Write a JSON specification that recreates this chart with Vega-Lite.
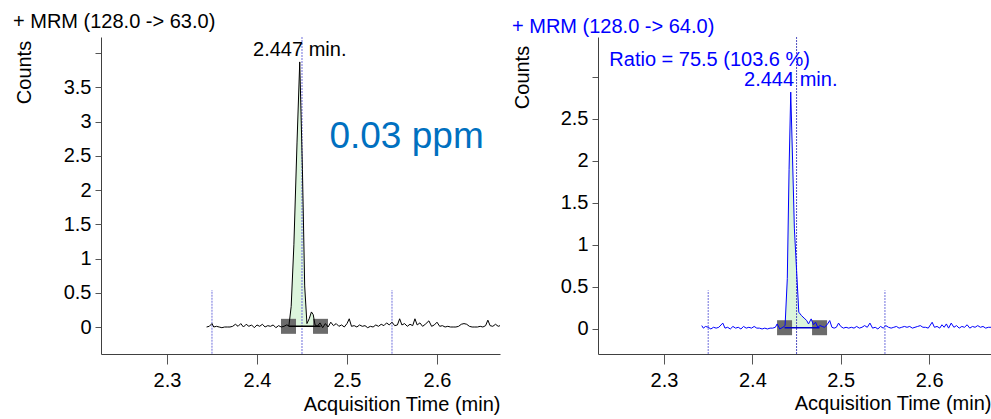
{
  "$schema": "https://vega.github.io/schema/vega-lite/v6.json",
  "background": "white",
  "padding": {"left": 13, "top": 11, "right": 0, "bottom": 4},
  "bounds": "flush",
  "spacing": 98,
  "config": {
    "font": "Liberation Sans",
    "view": {"stroke": null},
    "axis": {
      "grid": false,
      "labelFont": "Liberation Sans",
      "labelFontSize": 20,
      "labelColor": "#000000",
      "labelOverlap": false,
      "titleFont": "Liberation Sans",
      "titleFontSize": 20,
      "titleFontWeight": "normal",
      "titleColor": "#000000",
      "domainColor": "#404040",
      "tickColor": "#555555"
    },
    "title": {"font": "Liberation Sans", "fontSize": 20, "fontWeight": "normal", "anchor": "start", "frame": "group", "baseline": "alphabetic"}
  },
  "datasets": {
    "left": [
      {"t": 2.344, "v": 0.0}, {"t": 2.347, "v": 0.01}, {"t": 2.350, "v": 0.05}, {"t": 2.352, "v": 0.0},
      {"t": 2.355, "v": 0.01}, {"t": 2.358, "v": 0.0}, {"t": 2.361, "v": -0.01}, {"t": 2.364, "v": 0.0},
      {"t": 2.367, "v": 0.0}, {"t": 2.370, "v": 0.0}, {"t": 2.373, "v": 0.01}, {"t": 2.376, "v": 0.04},
      {"t": 2.379, "v": 0.01}, {"t": 2.382, "v": 0.05}, {"t": 2.385, "v": 0.0}, {"t": 2.388, "v": 0.04},
      {"t": 2.391, "v": 0.01}, {"t": 2.394, "v": 0.03}, {"t": 2.397, "v": -0.01}, {"t": 2.400, "v": 0.03},
      {"t": 2.403, "v": 0.01}, {"t": 2.406, "v": 0.04}, {"t": 2.409, "v": 0.0}, {"t": 2.412, "v": 0.02},
      {"t": 2.415, "v": 0.01}, {"t": 2.418, "v": 0.03}, {"t": 2.421, "v": -0.01}, {"t": 2.424, "v": 0.02},
      {"t": 2.427, "v": 0.0}, {"t": 2.430, "v": 0.01}, {"t": 2.433, "v": 0.03}, {"t": 2.4355, "v": 0.02},
      {"t": 2.438, "v": 0.3}, {"t": 2.441, "v": 1.2}, {"t": 2.4445, "v": 2.7}, {"t": 2.4475, "v": 3.87},
      {"t": 2.4505, "v": 2.3}, {"t": 2.453, "v": 0.6}, {"t": 2.4555, "v": 0.05}, {"t": 2.458, "v": 0.12},
      {"t": 2.4605, "v": 0.22}, {"t": 2.4625, "v": 0.18}, {"t": 2.4645, "v": 0.03}, {"t": 2.467, "v": 0.01},
      {"t": 2.470, "v": 0.06}, {"t": 2.473, "v": -0.01}, {"t": 2.476, "v": 0.05}, {"t": 2.479, "v": 0.0},
      {"t": 2.482, "v": 0.07}, {"t": 2.485, "v": 0.02}, {"t": 2.488, "v": 0.05}, {"t": 2.491, "v": 0.01},
      {"t": 2.494, "v": 0.03}, {"t": 2.497, "v": 0.0}, {"t": 2.500, "v": 0.05}, {"t": 2.5025, "v": 0.12},
      {"t": 2.505, "v": 0.01}, {"t": 2.508, "v": 0.02}, {"t": 2.511, "v": 0.0}, {"t": 2.514, "v": 0.03},
      {"t": 2.517, "v": 0.01}, {"t": 2.520, "v": 0.02}, {"t": 2.523, "v": -0.01}, {"t": 2.526, "v": 0.01},
      {"t": 2.529, "v": 0.0}, {"t": 2.532, "v": 0.03}, {"t": 2.535, "v": 0.01}, {"t": 2.538, "v": 0.04},
      {"t": 2.541, "v": 0.02}, {"t": 2.544, "v": 0.06}, {"t": 2.547, "v": 0.03}, {"t": 2.550, "v": 0.07},
      {"t": 2.553, "v": 0.02}, {"t": 2.556, "v": 0.03}, {"t": 2.5585, "v": 0.12}, {"t": 2.561, "v": 0.03},
      {"t": 2.564, "v": 0.05}, {"t": 2.567, "v": 0.01}, {"t": 2.570, "v": 0.04}, {"t": 2.573, "v": 0.02},
      {"t": 2.5755, "v": 0.12}, {"t": 2.578, "v": 0.03}, {"t": 2.581, "v": 0.06}, {"t": 2.584, "v": 0.01},
      {"t": 2.587, "v": 0.04}, {"t": 2.591, "v": 0.09}, {"t": 2.594, "v": 0.01}, {"t": 2.597, "v": 0.03},
      {"t": 2.600, "v": 0.07}, {"t": 2.603, "v": 0.01}, {"t": 2.606, "v": 0.02}, {"t": 2.609, "v": 0.0},
      {"t": 2.612, "v": 0.01}, {"t": 2.615, "v": 0.0}, {"t": 2.618, "v": 0.0}, {"t": 2.621, "v": 0.0},
      {"t": 2.624, "v": 0.01}, {"t": 2.627, "v": 0.04}, {"t": 2.630, "v": 0.05}, {"t": 2.633, "v": 0.04},
      {"t": 2.636, "v": 0.01}, {"t": 2.639, "v": 0.0}, {"t": 2.642, "v": 0.0}, {"t": 2.645, "v": 0.0},
      {"t": 2.648, "v": 0.01}, {"t": 2.651, "v": 0.0}, {"t": 2.654, "v": 0.02}, {"t": 2.6565, "v": 0.1},
      {"t": 2.659, "v": 0.02}, {"t": 2.662, "v": 0.01}, {"t": 2.665, "v": 0.04}, {"t": 2.668, "v": 0.01},
      {"t": 2.670, "v": 0.02}
    ],
    "right": [
      {"t": 2.3427, "v": 0.04}, {"t": 2.3445, "v": 0.01}, {"t": 2.347, "v": 0.03}, {"t": 2.350, "v": 0.02},
      {"t": 2.353, "v": 0.0}, {"t": 2.356, "v": 0.02}, {"t": 2.359, "v": 0.01}, {"t": 2.362, "v": 0.02},
      {"t": 2.3665, "v": 0.07}, {"t": 2.369, "v": 0.01}, {"t": 2.372, "v": 0.02}, {"t": 2.375, "v": 0.0},
      {"t": 2.378, "v": 0.03}, {"t": 2.381, "v": 0.01}, {"t": 2.384, "v": 0.02}, {"t": 2.387, "v": 0.0},
      {"t": 2.390, "v": 0.03}, {"t": 2.393, "v": 0.01}, {"t": 2.396, "v": 0.02}, {"t": 2.399, "v": 0.01},
      {"t": 2.402, "v": 0.03}, {"t": 2.405, "v": 0.01}, {"t": 2.408, "v": 0.01}, {"t": 2.411, "v": 0.0},
      {"t": 2.414, "v": 0.01}, {"t": 2.417, "v": 0.0}, {"t": 2.420, "v": 0.01}, {"t": 2.423, "v": 0.01},
      {"t": 2.426, "v": 0.02}, {"t": 2.428, "v": 0.06}, {"t": 2.431, "v": 0.0}, {"t": 2.4345, "v": 0.02},
      {"t": 2.437, "v": 0.04}, {"t": 2.4395, "v": 0.6}, {"t": 2.4415, "v": 1.9}, {"t": 2.4434, "v": 2.82},
      {"t": 2.4455, "v": 2.0}, {"t": 2.4475, "v": 1.2}, {"t": 2.4500, "v": 0.7}, {"t": 2.4525, "v": 0.2},
      {"t": 2.4555, "v": 0.16}, {"t": 2.4585, "v": 0.13}, {"t": 2.4615, "v": 0.1}, {"t": 2.4635, "v": 0.06},
      {"t": 2.4665, "v": 0.12}, {"t": 2.469, "v": 0.05}, {"t": 2.4715, "v": 0.08}, {"t": 2.474, "v": 0.02},
      {"t": 2.4765, "v": 0.04}, {"t": 2.479, "v": 0.03}, {"t": 2.4815, "v": 0.02}, {"t": 2.4845, "v": 0.05},
      {"t": 2.4875, "v": 0.1}, {"t": 2.490, "v": 0.02}, {"t": 2.4925, "v": 0.01}, {"t": 2.495, "v": 0.02},
      {"t": 2.4975, "v": 0.07}, {"t": 2.500, "v": 0.03}, {"t": 2.503, "v": 0.01}, {"t": 2.506, "v": 0.02},
      {"t": 2.509, "v": 0.01}, {"t": 2.512, "v": 0.02}, {"t": 2.515, "v": 0.01}, {"t": 2.518, "v": 0.03},
      {"t": 2.521, "v": 0.01}, {"t": 2.524, "v": 0.02}, {"t": 2.527, "v": 0.04}, {"t": 2.530, "v": 0.02},
      {"t": 2.533, "v": 0.07}, {"t": 2.536, "v": 0.01}, {"t": 2.539, "v": 0.02}, {"t": 2.542, "v": 0.0},
      {"t": 2.545, "v": 0.03}, {"t": 2.548, "v": 0.01}, {"t": 2.551, "v": 0.04}, {"t": 2.554, "v": 0.02},
      {"t": 2.557, "v": 0.01}, {"t": 2.560, "v": 0.02}, {"t": 2.563, "v": 0.03}, {"t": 2.566, "v": 0.01},
      {"t": 2.569, "v": 0.02}, {"t": 2.572, "v": 0.03}, {"t": 2.575, "v": 0.02}, {"t": 2.578, "v": 0.03},
      {"t": 2.581, "v": 0.01}, {"t": 2.584, "v": 0.02}, {"t": 2.587, "v": 0.03}, {"t": 2.590, "v": 0.04},
      {"t": 2.593, "v": 0.02}, {"t": 2.596, "v": 0.02}, {"t": 2.599, "v": 0.01}, {"t": 2.6034, "v": 0.08},
      {"t": 2.606, "v": 0.02}, {"t": 2.609, "v": 0.03}, {"t": 2.612, "v": 0.01}, {"t": 2.6145, "v": 0.05},
      {"t": 2.617, "v": 0.02}, {"t": 2.6195, "v": 0.06}, {"t": 2.622, "v": 0.01}, {"t": 2.625, "v": 0.07},
      {"t": 2.628, "v": 0.02}, {"t": 2.631, "v": 0.04}, {"t": 2.634, "v": 0.01}, {"t": 2.637, "v": 0.03},
      {"t": 2.640, "v": 0.02}, {"t": 2.643, "v": 0.05}, {"t": 2.646, "v": 0.01}, {"t": 2.649, "v": 0.03},
      {"t": 2.652, "v": 0.02}, {"t": 2.655, "v": 0.04}, {"t": 2.658, "v": 0.02}, {"t": 2.661, "v": 0.03},
      {"t": 2.664, "v": 0.01}, {"t": 2.667, "v": 0.02}, {"t": 2.670, "v": 0.02}
    ],
    "leftInt": [{"t": 2.435, "v": 0.01}, {"t": 2.4706, "v": 0.01}],
    "rightInt": [{"t": 2.4364, "v": 0.015}, {"t": 2.476, "v": 0.015}],
    "marks": [{"t": 2.35}, {"t": 2.45}, {"t": 2.55}],
    "center": [{"t": 2.45}]
  },
  "hconcat": [
    {
      "width": 399,
      "height": 317,
      "title": {"text": "+ MRM (128.0 -> 63.0)", "dx": -88, "offset": 5, "color": "#000000"},
      "resolve": {"axis": {"y": "independent"}},
      "layer": [
        {
          "data": {"name": "left"},
          "transform": [{"filter": "datum.t >= 2.435 && datum.t <= 2.4706"}],
          "mark": {"type": "area", "color": "#dcf5dc", "clip": true},
          "encoding": {
            "x": {
              "field": "t", "type": "quantitative",
              "scale": {"domain": [2.2267, 2.670], "nice": false, "zero": false},
              "axis": {"values": [2.3, 2.4, 2.5, 2.6], "format": "~g", "tickSize": 10, "labelPadding": 6, "labelOverlap": false,
                       "title": "Acquisition Time (min)", "titleX": 399, "titleY": 56, "titleAlign": "right", "titleBaseline": "alphabetic"}
            },
            "y": {
              "field": "v", "type": "quantitative",
              "scale": {"domain": [-0.394, 4.234], "nice": false, "zero": false},
              "axis": {"orient": "left", "values": [0, 1, 2, 3, 4],
                       "labelExpr": "datum.value >= 3.9 ? '' : toString(datum.value)",
                       "tickSize": 6, "labelPadding": 4, "labelOverlap": false,
                       "title": "Counts", "titleX": -71, "titleY": 35, "titleAngle": -90, "titleAlign": "center", "titleBaseline": "alphabetic"}
            },
            "y2": {"datum": 0.01}
          }
        },
        {
          "data": {"name": "marks"},
          "transform": [{"filter": "datum.t != 2.45"}],
          "mark": {"type": "rule", "color": "#7070dd", "strokeDash": [2, 1], "strokeWidth": 1},
          "encoding": {
            "x": {"field": "t", "type": "quantitative"},
            "y": {"datum": -0.39, "type": "quantitative",
                  "axis": {"orient": "left", "values": [0.5, 3.5], "labelExpr": "toString(datum.value)", "domain": false,
                           "tickSize": 6, "labelPadding": 4, "labelOverlap": false, "title": null}},
            "y2": {"datum": 0.54}
          }
        },
        {
          "data": {"name": "center"},
          "mark": {"type": "rule", "color": "#7070dd", "strokeDash": [2, 1], "strokeWidth": 1},
          "encoding": {"x": {"field": "t", "type": "quantitative"}}
        },
        {
          "data": {"name": "leftInt"},
          "mark": {"type": "point", "shape": "square", "filled": true, "size": 225, "color": "#6b6b6b", "opacity": 1},
          "encoding": {"x": {"field": "t", "type": "quantitative"},
                       "y": {"field": "v", "type": "quantitative",
                             "axis": {"orient": "left", "values": [1.5, 2.5], "labelExpr": "toString(datum.value)", "domain": false,
                                      "tickSize": 6, "labelPadding": 4, "labelOverlap": false, "title": null}}}
        },
        {
          "data": {"name": "leftInt"},
          "mark": {"type": "line", "color": "#000000", "strokeWidth": 1.5},
          "encoding": {"x": {"field": "t", "type": "quantitative"}, "y": {"field": "v", "type": "quantitative", "axis": null}}
        },
        {
          "data": {"name": "left"},
          "mark": {"type": "line", "color": "#000000", "strokeWidth": 1, "clip": true},
          "encoding": {"x": {"field": "t", "type": "quantitative"}, "y": {"field": "v", "type": "quantitative", "axis": null}}
        },
        {
          "data": {"values": [{}]},
          "mark": {"type": "text", "fontSize": 20, "align": "center", "baseline": "alphabetic", "dy": -6, "color": "#000000"},
          "encoding": {"x": {"datum": 2.4475, "type": "quantitative"}, "y": {"datum": 3.87, "type": "quantitative", "axis": null}, "text": {"value": "2.447 min."}}
        },
        {
          "data": {"values": [{}]},
          "mark": {"type": "text", "fontSize": 37, "align": "left", "baseline": "alphabetic", "color": "#0070c0"},
          "encoding": {"x": {"datum": 2.4805, "type": "quantitative"}, "y": {"datum": 2.61, "type": "quantitative", "axis": null}, "text": {"value": "0.03 ppm"}}
        }
      ]
    },
    {
      "width": 393,
      "height": 317,
      "title": {"text": "+ MRM (128.0 -> 64.0)", "dx": -86, "offset": 0, "color": "#0000ff"},
      "layer": [
        {
          "data": {"name": "right"},
          "transform": [{"filter": "datum.t >= 2.4364 && datum.t <= 2.476"}],
          "mark": {"type": "area", "color": "#dcf5dc", "clip": true},
          "encoding": {
            "x": {
              "field": "t", "type": "quantitative",
              "scale": {"domain": [2.2253, 2.670], "nice": false, "zero": false},
              "axis": {"values": [2.3, 2.4, 2.5, 2.6], "format": "~g", "tickSize": 10, "labelPadding": 6, "labelOverlap": false,
                       "title": "Acquisition Time (min)", "titleX": 393, "titleY": 55, "titleAlign": "right", "titleBaseline": "alphabetic"}
            },
            "y": {
              "field": "v", "type": "quantitative",
              "scale": {"domain": [-0.298, 3.476], "nice": false, "zero": false},
              "axis": {"values": [0, 0.5, 1, 1.5, 2, 2.5, 3],
                       "labelExpr": "datum.value >= 2.9 ? '' : toString(datum.value)",
                       "tickSize": 6, "labelPadding": 4, "labelOverlap": false,
                       "title": "Counts", "titleX": -70, "titleY": 40, "titleAngle": -90, "titleAlign": "center", "titleBaseline": "alphabetic"}
            },
            "y2": {"datum": 0.015}
          }
        },
        {
          "data": {"name": "marks"},
          "transform": [{"filter": "datum.t != 2.45"}],
          "mark": {"type": "rule", "color": "#7070dd", "strokeDash": [2, 1], "strokeWidth": 1},
          "encoding": {
            "x": {"field": "t", "type": "quantitative"},
            "y": {"datum": -0.298, "type": "quantitative"},
            "y2": {"datum": 0.46}
          }
        },
        {
          "data": {"name": "center"},
          "mark": {"type": "rule", "color": "#5050c0", "strokeDash": [2, 1], "strokeWidth": 1},
          "encoding": {"x": {"field": "t", "type": "quantitative"}}
        },
        {
          "data": {"name": "rightInt"},
          "mark": {"type": "point", "shape": "square", "filled": true, "size": 225, "color": "#6b6b6b", "opacity": 1},
          "encoding": {"x": {"field": "t", "type": "quantitative"}, "y": {"field": "v", "type": "quantitative"}}
        },
        {
          "data": {"name": "rightInt"},
          "mark": {"type": "line", "color": "#0000cc", "strokeWidth": 1.5},
          "encoding": {"x": {"field": "t", "type": "quantitative"}, "y": {"field": "v", "type": "quantitative"}}
        },
        {
          "data": {"name": "right"},
          "mark": {"type": "line", "color": "#0000ff", "strokeWidth": 1, "clip": true},
          "encoding": {"x": {"field": "t", "type": "quantitative"}, "y": {"field": "v", "type": "quantitative"}}
        },
        {
          "data": {"values": [{}]},
          "mark": {"type": "text", "fontSize": 20, "align": "center", "baseline": "alphabetic", "dy": -6, "color": "#0000ff"},
          "encoding": {"x": {"datum": 2.4434, "type": "quantitative"}, "y": {"datum": 2.82, "type": "quantitative"}, "text": {"value": "2.444 min."}}
        },
        {
          "data": {"values": [{}]},
          "mark": {"type": "text", "fontSize": 20, "align": "left", "baseline": "alphabetic", "color": "#0000ff"},
          "encoding": {"x": {"datum": 2.2381, "type": "quantitative"}, "y": {"datum": 3.135, "type": "quantitative"}, "text": {"value": "Ratio = 75.5 (103.6 %)"}}
        }
      ]
    }
  ]
}
